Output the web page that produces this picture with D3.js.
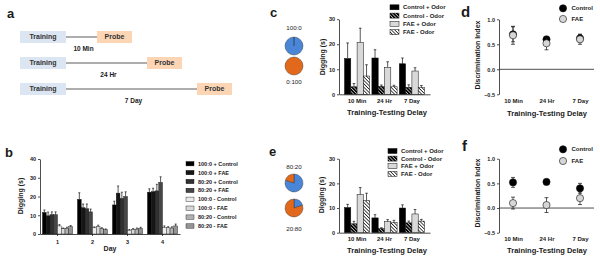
<!DOCTYPE html>
<html>
<head>
<meta charset="utf-8">
<script src="https://cdn.jsdelivr.net/npm/d3@7"></script>
<style>
  body { margin: 0; background: #fff; }
  svg text { font-family: "Liberation Sans", Arial, sans-serif; font-weight: bold; fill: #1a1a1a; }
  svg text.etq-pie { font-weight: normal; }
</style>
</head>
<body>
<script>
// ---- Datos ----
const retrasos = ["10 Min", "24 Hr", "7 Day"];

// panel b
const dias = ["1", "2", "3", "4"];
const gruposB = ["100:0 + Control", "100:0 + FAE", "80:20 + Control", "80:20 + FAE",
                 "100:0 - Control", "100:0 - FAE", "80:20 - Control", "80:20 - FAE"];
const mediasB = [
  [11.5, 9.7, 10.3, 10.3, 4.3, 2.8, 3.0, 3.9],
  [18.5, 14.0, 13.5, 11.8, 3.3, 4.0, 2.8, 2.3],
  [15.5, 21.8, 19.0, 20.0, 2.0, 2.4, 2.6, 3.0],
  [22.3, 22.6, 23.0, 27.5, 3.5, 3.3, 3.2, 4.3]
];
const erroresB = [
  [1.3, 2.0, 1.5, 1.5, 0.7, 0.4, 0.6, 0.6],
  [3.5, 2.0, 2.5, 1.5, 0.5, 0.7, 0.5, 0.4],
  [2.0, 3.8, 3.3, 2.5, 0.4, 0.5, 0.6, 0.6],
  [1.8, 1.8, 3.5, 3.0, 0.8, 0.6, 0.6, 1.0]
];

// paneles c y e
const gruposCE = ["Control + Odor", "Control - Odor", "FAE + Odor", "FAE - Odor"];
const mediasC = [[14.3, 3.0, 20.8, 7.3], [14.5, 3.2, 10.7, 3.0], [12.2, 2.8, 9.3, 2.8]];
const erroresC = [[6.2, 1.3, 5.6, 4.5], [3.3, 0.5, 2.3, 0.6], [2.3, 1.0, 1.3, 0.7]];
const mediasE = [[10.2, 3.6, 15.5, 13.0], [6.0, 1.7, 4.5, 4.2], [10.0, 4.0, 7.6, 4.7]];
const erroresE = [[1.3, 1.0, 2.8, 3.0], [1.3, 0.3, 0.8, 0.8], [1.3, 0.7, 1.8, 0.7]];

// pies (azul : naranja)
const etiquetasPieC = ["100:0", "0:100"];
const proporcionesC = [[100, 0], [0, 100]];
const etiquetasPieE = ["80:20", "20:80"];
const proporcionesE = [[80, 20], [20, 80]];

// paneles d y f (índice de discriminación)
const seriesDI = ["Control", "FAE"];
const controlD = [0.70, 0.60, 0.62], errControlD = [0.15, 0.05, 0.08];
const faeD = [0.68, 0.52, 0.60], errFaeD = [0.18, 0.13, 0.10];
const controlF = [0.52, 0.53, 0.40], errControlF = [0.10, 0.03, 0.10];
const faeF = [0.10, 0.06, 0.20], errFaeF = [0.12, 0.15, 0.13];

// ---- SVG ----
const svg = d3.select("body").append("svg")
  .attr("width", 600)
  .attr("height", 264);

const defs = svg.append("defs");
function rayas(id, fondo, color, grosor, paso, angulo) {
  const p = defs.append("pattern")
    .attr("id", id)
    .attr("patternUnits", "userSpaceOnUse")
    .attr("width", paso).attr("height", paso)
    .attr("patternTransform", `rotate(${angulo})`);
  p.append("rect").attr("width", paso).attr("height", paso).attr("fill", fondo);
  p.append("line")
    .attr("x1", 0).attr("x2", paso)
    .attr("y1", paso / 2).attr("y2", paso / 2)
    .attr("stroke", color).attr("stroke-width", grosor);
}
rayas("diagOscuro", "#000", "#fff", 0.6, 2.4, 45);
rayas("diagClaro", "#fff", "#222", 0.8, 2.4, 45);
rayas("horOsc1", "#4a4a4a", "#111", 0.8, 1.8, 0);
rayas("horOsc2", "#7a7a7a", "#111", 1.0, 2.0, 0);
rayas("horCl1", "#c4c4c4", "#8a8a8a", 0.6, 1.8, 0);
rayas("horCl2", "#b0b0b0", "#6a6a6a", 0.8, 2.0, 0);

const rellenoB = ["#000", "#161616", "url(#horOsc1)", "url(#horOsc2)",
                  "#ececec", "#d8d8d8", "url(#horCl1)", "url(#horCl2)"];
const rellenoCE = ["#000", "url(#diagOscuro)", "#d9d9d9", "url(#diagClaro)"];

function estiloEje(eje, tam) {
  eje.attr("font-family", null).attr("font-size", tam || 5.5);
  eje.selectAll("path, line").attr("stroke", "#222").attr("stroke-width", 0.8);
  return eje;
}

function letra(txt, x, y, tam) {
  svg.append("text").attr("x", x).attr("y", y).attr("font-size", tam).text(txt);
}

function titulo(txt, x, y, tam, rotado) {
  const t = svg.append("text")
    .attr("text-anchor", "middle")
    .attr("font-size", tam)
    .text(txt);
  if (rotado) t.attr("transform", `translate(${x},${y}) rotate(-90)`);
  else t.attr("x", x).attr("y", y);
}

function errorArriba(g, x, yTop, yErr, ancho) {
  g.append("line").attr("x1", x).attr("x2", x).attr("y1", yTop).attr("y2", yErr)
    .attr("stroke", "#111").attr("stroke-width", 0.7);
  g.append("line").attr("x1", x - ancho / 2).attr("x2", x + ancho / 2).attr("y1", yErr).attr("y2", yErr)
    .attr("stroke", "#111").attr("stroke-width", 0.7);
}

// ---- Panel a: protocolo ----
letra("a", 7, 18, 13);
const filaY = d3.scalePoint().domain(retrasos).range([37, 89]);
const probeX = d3.scalePoint().domain(retrasos).range([97, 197]);
const gA = svg.append("g");
retrasos.forEach(r => {
  const cy = filaY(r);
  gA.append("rect").attr("x", 20).attr("y", cy - 6).attr("width", 46).attr("height", 12).attr("fill", "#dce6f2");
  gA.append("text").attr("x", 43).attr("y", cy + 2.4).attr("text-anchor", "middle").attr("font-size", 7).style("fill", "#333").text("Training");
  gA.append("line").attr("x1", 66).attr("x2", probeX(r)).attr("y1", cy).attr("y2", cy).attr("stroke", "#333").attr("stroke-width", 0.8);
  gA.append("rect").attr("x", probeX(r)).attr("y", cy - 6).attr("width", 35).attr("height", 12).attr("fill", "#fcd5b5");
  gA.append("text").attr("x", probeX(r) + 17.5).attr("y", cy + 2.4).attr("text-anchor", "middle").attr("font-size", 7).style("fill", "#333").text("Probe");
  gA.append("text").attr("x", (66 + probeX(r)) / 2 + 2).attr("y", cy + 14).attr("text-anchor", "middle").attr("font-size", 6.5).text(r);
});

// ---- Panel b ----
letra("b", 5, 157, 13);
const xDia = d3.scaleBand().domain(dias).range([40, 180]).paddingInner(0.14).paddingOuter(0.07);
const xGrupoB = d3.scaleBand().domain(gruposB).range([0, xDia.bandwidth()]);
const yB = d3.scaleLinear().domain([0, 40]).range([234, 159]);
const gB = svg.append("g");
dias.forEach((d, i) => {
  gruposB.forEach((gr, j) => {
    const x = xDia(d) + xGrupoB(gr);
    const v = mediasB[i][j];
    gB.append("rect")
      .attr("x", x).attr("y", yB(v))
      .attr("width", xGrupoB.bandwidth()).attr("height", yB(0) - yB(v))
      .attr("fill", rellenoB[j]).attr("stroke", "#111").attr("stroke-width", 0.4);
    errorArriba(gB, x + xGrupoB.bandwidth() / 2, yB(v), yB(v + erroresB[i][j]), 2);
  });
});
estiloEje(gB.append("g").attr("transform", "translate(40,0)")
  .call(d3.axisLeft(yB).tickValues([0, 10, 20, 30, 40]).tickSize(2).tickSizeOuter(0).tickPadding(2)));
estiloEje(gB.append("g").attr("transform", `translate(0,${yB(0)})`)
  .call(d3.axisBottom(xDia).tickSize(2).tickSizeOuter(0).tickPadding(4)));
titulo("Digging (s)", 23, 196, 7, true);
titulo("Day", 110, 250.5, 7);
const legB = svg.append("g");
gruposB.forEach((gr, j) => {
  const y = 163.7 + j * 8.9;
  legB.append("rect").attr("x", 186).attr("y", y - 2.2).attr("width", 8).attr("height", 4.4)
    .attr("fill", rellenoB[j]).attr("stroke", "#111").attr("stroke-width", 0.4);
  legB.append("text").attr("x", 198).attr("y", y + 2).attr("font-size", 5.5).text(gr);
});

// ---- Pies ----
const pie = d3.pie().sort(null);
const arco = d3.arc().innerRadius(0).outerRadius(9);
const coloresPie = ["#4a86d8", "#e2691c"];
function pies(etiquetas, proporciones, yEtq1, yPie1, yPie2, yEtq2) {
  const g = svg.append("g");
  [yPie1, yPie2].forEach((cy, k) => {
    g.append("g").attr("transform", `translate(294,${cy})`)
      .selectAll("path")
      .data(pie(proporciones[k]))
      .join("path")
      .attr("d", arco)
      .attr("fill", (d, i) => coloresPie[i])
      .attr("stroke", "#2a2a2a").attr("stroke-width", 0.4);
  });
  g.append("text").attr("class", "etq-pie").attr("x", 294).attr("y", yEtq1).attr("text-anchor", "middle").attr("font-size", 6.2).text(etiquetas[0]);
  g.append("text").attr("class", "etq-pie").attr("x", 294).attr("y", yEtq2).attr("text-anchor", "middle").attr("font-size", 6.2).text(etiquetas[1]);
}

// ---- Paneles c / e ----
function panelBarras(medias, errores, yArriba, yAbajo, legY0, legPaso, legX) {
  const g = svg.append("g");
  const x = d3.scaleBand().domain(retrasos).range([339, 430]).paddingInner(0.08).paddingOuter(0.2);
  const xs = d3.scaleBand().domain(gruposCE).range([0, x.bandwidth()]);
  const y = d3.scaleLinear().domain([0, 30]).range([yAbajo, yArriba]);
  retrasos.forEach((r, i) => {
    gruposCE.forEach((gr, j) => {
      const v = medias[i][j];
      const bx = x(r) + xs(gr);
      g.append("rect")
        .attr("x", bx).attr("y", y(v))
        .attr("width", xs.bandwidth()).attr("height", y(0) - y(v))
        .attr("fill", rellenoCE[j]).attr("stroke", "#111").attr("stroke-width", 0.5);
      errorArriba(g, bx + xs.bandwidth() / 2, y(v), y(v + errores[i][j]), 2.6);
    });
  });
  estiloEje(g.append("g").attr("transform", "translate(339,0)")
    .call(d3.axisLeft(y).tickValues([0, 10, 20, 30]).tickSize(2).tickSizeOuter(0).tickPadding(2)));
  estiloEje(g.append("g").attr("transform", `translate(0,${y(0)})`)
    .call(d3.axisBottom(x).tickSize(0).tickSizeOuter(0).tickPadding(4)), 6);
  gruposCE.forEach((gr, j) => {
    const ly = legY0 + j * legPaso;
    g.append("rect").attr("x", legX).attr("y", ly - 2.5).attr("width", 9).attr("height", 5)
      .attr("fill", rellenoCE[j]).attr("stroke", "#111").attr("stroke-width", 0.5);
    g.append("text").attr("x", legX + 13).attr("y", ly + 2).attr("font-size", 6).text(gr);
  });
}

letra("c", 270, 17, 13);
pies(etiquetasPieC, proporcionesC, 30, 46, 66, 84);
panelBarras(mediasC, erroresC, 19.2, 94.3, 7.3, 8.3, 390);
titulo("Digging (s)", 325, 57, 7, true);
titulo("Training-Testing Delay", 387, 115, 7.5);

letra("e", 269, 156, 13);
pies(etiquetasPieE, proporcionesE, 169, 183, 208, 231);
panelBarras(mediasE, erroresE, 158.7, 232.7, 151, 7.6, 388);
titulo("Digging (s)", 324, 195, 7, true);
titulo("Training-Testing Delay", 387, 253, 7.5);

// ---- Paneles d / f ----
function panelIndice(control, errControl, fae, errFae, yArriba, yAbajo, legY0, legY1) {
  const g = svg.append("g");
  const x = d3.scalePoint().domain(retrasos).range([513, 580]);
  const y = d3.scaleLinear().domain([-0.5, 1.0]).range([yAbajo, yArriba]);
  g.append("line").attr("x1", 499).attr("x2", 594).attr("y1", y(0)).attr("y2", y(0))
    .attr("stroke", "#222").attr("stroke-width", 0.8);
  estiloEje(g.append("g").attr("transform", "translate(499,0)")
    .call(d3.axisLeft(y).tickValues([-0.5, 0, 0.5, 1.0]).tickFormat(d3.format(".1f"))
      .tickSize(2).tickSizeOuter(0).tickPadding(2)));
  const ejeX = estiloEje(g.append("g").attr("transform", `translate(0,${yAbajo})`)
    .call(d3.axisBottom(x).tickSize(0).tickPadding(4)), 6);
  ejeX.select(".domain").remove();

  const series = [
    { nombre: seriesDI[0], v: control, e: errControl, relleno: "#000" },
    { nombre: seriesDI[1], v: fae, e: errFae, relleno: "#d6d6d6" }
  ];
  series.forEach(s => {
    retrasos.forEach((r, i) => {
      const cx = x(r);
      const y0 = y(s.v[i] - s.e[i]), y1 = y(s.v[i] + s.e[i]);
      g.append("line").attr("x1", cx).attr("x2", cx).attr("y1", y0).attr("y2", y1).attr("stroke", "#111").attr("stroke-width", 0.7);
      [y0, y1].forEach(yy => g.append("line").attr("x1", cx - 2).attr("x2", cx + 2).attr("y1", yy).attr("y2", yy)
        .attr("stroke", "#111").attr("stroke-width", 0.7));
      g.append("circle").attr("cx", cx).attr("cy", y(s.v[i])).attr("r", 3.6)
        .attr("fill", s.relleno).attr("stroke", "#111").attr("stroke-width", 0.6);
    });
  });
  series.forEach((s, k) => {
    const ly = k === 0 ? legY0 : legY1;
    g.append("circle").attr("cx", 563).attr("cy", ly).attr("r", 3.6)
      .attr("fill", s.relleno).attr("stroke", "#111").attr("stroke-width", 0.6);
    g.append("text").attr("x", 571.5).attr("y", ly + 2).attr("font-size", 6).text(s.nombre);
  });
}

letra("d", 461, 17, 15);
panelIndice(controlD, errControlD, faeD, errFaeD, 19.3, 94.3, 8.3, 19);
titulo("Discrimination Index", 480, 55, 7, true);
titulo("Training-Testing Delay", 547, 116, 7.5);

letra("f", 462, 151, 15);
panelIndice(controlF, errControlF, faeF, errFaeF, 158.7, 232.7, 149.3, 161);
titulo("Discrimination Index", 480, 193, 7, true);
titulo("Training-Testing Delay", 547, 253, 7.5);
</script>
</body>
</html>
